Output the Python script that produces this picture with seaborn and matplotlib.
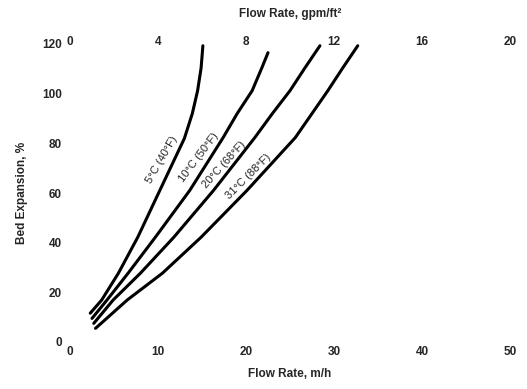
import pandas as pd
import seaborn as sns
from matplotlib import pyplot as plt

# flow rate (m/h) and bed expansion (%) for each water temperature
temps = ['5°C (40°F)', '10°C (50°F)', '20°C (68°F)', '31°C (88°F)']

rate_5c = [2.3, 3.6, 5.5, 7.7, 10.2, 13.0, 13.9, 14.5, 14.9, 15.1]
exp_5c = [11.6, 16.9, 27.7, 42.2, 61.0, 82.0, 92.0, 101.2, 110.4, 119.3]

rate_10c = [2.5, 4.2, 6.6, 9.7, 13.6, 17.4, 19.0, 20.7, 21.8, 22.5]
exp_10c = [9.5, 16.9, 27.7, 42.2, 61.0, 82.3, 92.0, 101.2, 110.4, 116.5]

rate_20c = [2.7, 4.9, 8.0, 11.8, 16.3, 21.0, 23.0, 25.0, 26.7, 28.4]
exp_20c = [7.5, 16.9, 27.7, 42.2, 61.0, 82.3, 92.0, 101.2, 110.4, 119.3]

rate_31c = [2.9, 6.5, 10.5, 14.9, 20.1, 25.6, 27.5, 29.3, 31.0, 32.7]
exp_31c = [5.5, 16.9, 27.7, 42.2, 61.0, 82.3, 92.0, 101.2, 110.4, 119.3]

bottom_ticks = [0, 10, 20, 30, 40, 50]
top_ticks = [0, 4, 8, 12, 16, 20]
y_ticks = [0, 20, 40, 60, 80, 100, 120]

rates = [rate_5c, rate_10c, rate_20c, rate_31c]
exps = [exp_5c, exp_10c, exp_20c, exp_31c]
frames = []
for t, r, e in zip(temps, rates, exps):
    frames.append(pd.DataFrame({'rate': r, 'expansion': e, 'temp': t}))
df = pd.concat(frames, ignore_index=True)

sns.set_style('white')
plt.rcParams['font.family'] = ['Liberation Sans', 'DejaVu Sans']

fig = plt.figure(figsize=(5.27, 3.89), dpi=100)
ax = fig.add_axes([70 / 527, 47 / 389, 440 / 527, 298 / 389])

sns.lineplot(data=df, x='rate', y='expansion', hue='temp', sort=False,
             palette=['black'] * 4, linewidth=2.2, legend=False, ax=ax)

ax.set_xlim(0, 50)
ax.set_ylim(0, 120)
ax.set_xticks(bottom_ticks)
ax.set_yticks(y_ticks)
ax.set_xticklabels([str(v) for v in bottom_ticks], fontsize=8.5, fontweight='bold')
ax.set_yticklabels([str(v) for v in y_ticks], fontsize=8.5, fontweight='bold')
ax.tick_params(axis='x', length=0, pad=3)
ax.tick_params(axis='y', length=0, pad=6)
ax.set_xlabel('Flow Rate, m/h', fontsize=8.5, fontweight='bold', labelpad=7)
ax.set_ylabel('Bed Expansion, %', fontsize=8.5, fontweight='bold', labelpad=10)

top = ax.twiny()
top.set_xlim(0, 20)
top.set_xticks(top_ticks)
top.set_xticklabels([str(v) for v in top_ticks], fontsize=8.5, fontweight='bold')
top.tick_params(axis='x', length=0, pad=-3)
top.set_xlabel('Flow Rate, gpm/ft²', fontsize=8.5, fontweight='bold', labelpad=14)

for a in (ax, top):
    for s in a.spines.values():
        s.set_visible(False)

# curve labels set along each line
label_spots = [(10.4, 73.5, 60), (14.6, 74.5, 53), (17.5, 71.5, 48), (20.3, 66.5, 45)]
for t, (lx, ly, rot) in zip(temps, label_spots):
    ax.text(lx, ly, t, rotation=rot, rotation_mode='anchor', ha='center',
            va='center', fontsize=8)

fig.savefig('out.png', dpi=100)
